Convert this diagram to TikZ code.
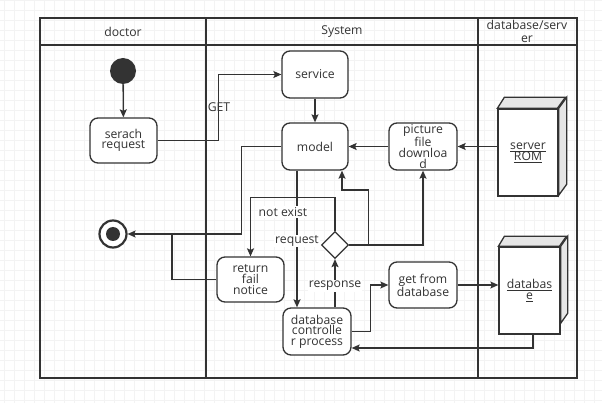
\documentclass[tikz,border=0pt]{standalone}
\usepackage{fontspec}
\setmainfont{Open Sans}
\usetikzlibrary{arrows.meta,shapes.geometric,calc}
\definecolor{ink}{HTML}{333333}
\definecolor{gridc}{HTML}{F3F3F3}
\definecolor{side}{HTML}{E6E6E6}
\tikzset{
  every node/.style={text=ink},
  boxn/.style={draw=ink, line width=1.3pt, rounded corners=8pt, fill=white, align=center,
    inner sep=0pt, font=\fontsize{12.2}{10.6}\selectfont},
  cube/.style={draw=ink, line width=1.3pt, fill=white, align=center, inner sep=0pt,
    font=\fontsize{12.2}{11}\selectfont},
  edge/.style={draw=ink, line width=1.3pt},
  arr/.style={edge, -{Stealth[length=8pt,width=7pt,inset=1.5pt]}},
  lbl/.style={font=\fontsize{12.2}{12.2}\selectfont, inner sep=1pt},
  hdr/.style={font=\fontsize{12.2}{13}\selectfont, align=center},
}
\begin{document}
\begin{tikzpicture}[x=1pt,y=-1pt]
\useasboundingbox (0,0) rectangle (602,403);
\fill[white] (0,0) rectangle (602,403);
\foreach \gx in {4,14,...,602} \draw[gridc, line width=0.6pt] (\gx,0) -- (\gx,403);
\foreach \gy in {0,10,...,403} \draw[gridc, line width=0.6pt] (0,\gy) -- (602,\gy);

% swimlanes
\draw[ink, line width=1.3pt] (40,18) rectangle (577,378);
\draw[ink, line width=1.3pt] (40,45) -- (577,45);
\draw[ink, line width=1.3pt] (206,18) -- (206,45);
\draw[ink, line width=1.3pt] (478,18) -- (478,45);
\draw[ink, line width=2.2pt] (206,45) -- (206,378);
\draw[ink, line width=2.2pt] (478,45) -- (478,378);
\node[hdr] (hdoc) at (123,31.5) {doctor};
\node[hdr] (hsys) at (342,31.5) {System};
\node[hdr] (hdb) at (527,31.5) {database/serv\\er};

% nodes
\node[circle, fill=ink, minimum size=26pt, inner sep=0pt] (start) at (123,71) {};
\node[boxn, minimum width=67pt, minimum height=45pt] (search) at (123.5,140.5) {serach\\request};
\node[boxn, minimum width=66pt, minimum height=47pt] (service) at (315,74.5) {service};
\node[boxn, minimum width=66pt, minimum height=47pt] (model) at (315,146.5) {model};
\node[boxn, minimum width=68pt, minimum height=47pt] (picture) at (423,146.5) {picture\\file\\downloa\\d};
\node[boxn, minimum width=67pt, minimum height=45pt] (fail) at (250.5,279.5) {return\\fail\\notice};
\node[boxn, minimum width=68pt, minimum height=47pt] (dcp) at (317,331.5) {database\\controlle\\r process};
\node[boxn, minimum width=68pt, minimum height=46pt] (get) at (423,285) {get from\\database};
\node[diamond, draw=ink, line width=1.3pt, fill=white, minimum width=27pt, minimum height=27pt, inner sep=0pt] (dec) at (335,245) {};
\node[circle, draw=ink, line width=2.2pt, minimum size=27pt, inner sep=0pt, fill=white] (end) at (113,234) {};
\fill[ink] (end.center) circle (7pt);

% 3D boxes
\node[cube, minimum width=60pt, minimum height=87pt] (srv) at (528,152.5) {\underline{server}\\\underline{ROM}};
\draw[ink, line width=1.3pt, fill=side] (srv.north west) -- ++(7,-11) -- ++(61,0) -- ++(-8,11) -- cycle;
\draw[ink, line width=1.3pt, fill=side] (srv.north east) -- ++(8,-11) -- ++(0,87) -- ++(-8,11) -- cycle;
\node[cube, minimum width=61pt, minimum height=87pt] (db) at (529.5,290.5) {\underline{databas}\\\underline{e}};
\draw[ink, line width=1.3pt, fill=side] (db.north west) -- ++(6,-10) -- ++(62,0) -- ++(-7,10) -- cycle;
\draw[ink, line width=1.3pt, fill=side] (db.north east) -- ++(7,-10) -- ++(0,77) -- ++(-7,10) -- cycle;

% connectors
\draw[arr] (start) -- (search);
\draw[arr] (search.east) -- ++(61,0) |- (service.west);
\node[lbl] (lget) at (219,107) {GET};
\draw[arr] (service) -- (model);
\draw[arr] (picture) -- (model);
\draw[arr] (picture.east -| srv.west) -- (picture.east);
\draw[arr] (model.west) -- ++(-40,0) |- (end.east);
\coordinate (j1) at (172,234);
\draw[edge] (fail.west) -| (j1);
\draw[arr] ([xshift=-18pt]model.south) -- ([xshift=-20pt]dcp.north);
\draw[arr] (dec.north) -- ++(0,-33) -| (fail.north);
\draw[arr] (dec.east) -- ++(19,0) -- ++(0,-55) -| ([xshift=27pt]model.south);
\draw[arr] (dec.east) -| (picture.south);
\draw[arr] ([xshift=18pt]dcp.north) -- (dec.south);
\draw[arr] (dcp.east) -- ++(19,0) |- (get.west);
\draw[arr] (get.east) -- (get.east -| db.west);
\draw[arr] ([xshift=3.5pt]db.south) |- ([yshift=-16.5pt]dcp.east);

% labels with background
\node[lbl, fill=white] (lnot) at (283,212) {not exist};
\node[lbl, fill=white] (lreq) at (297,241) {request};
\node[lbl, fill=white] (lresp) at (335,286) {response};
\end{tikzpicture}
\end{document}
